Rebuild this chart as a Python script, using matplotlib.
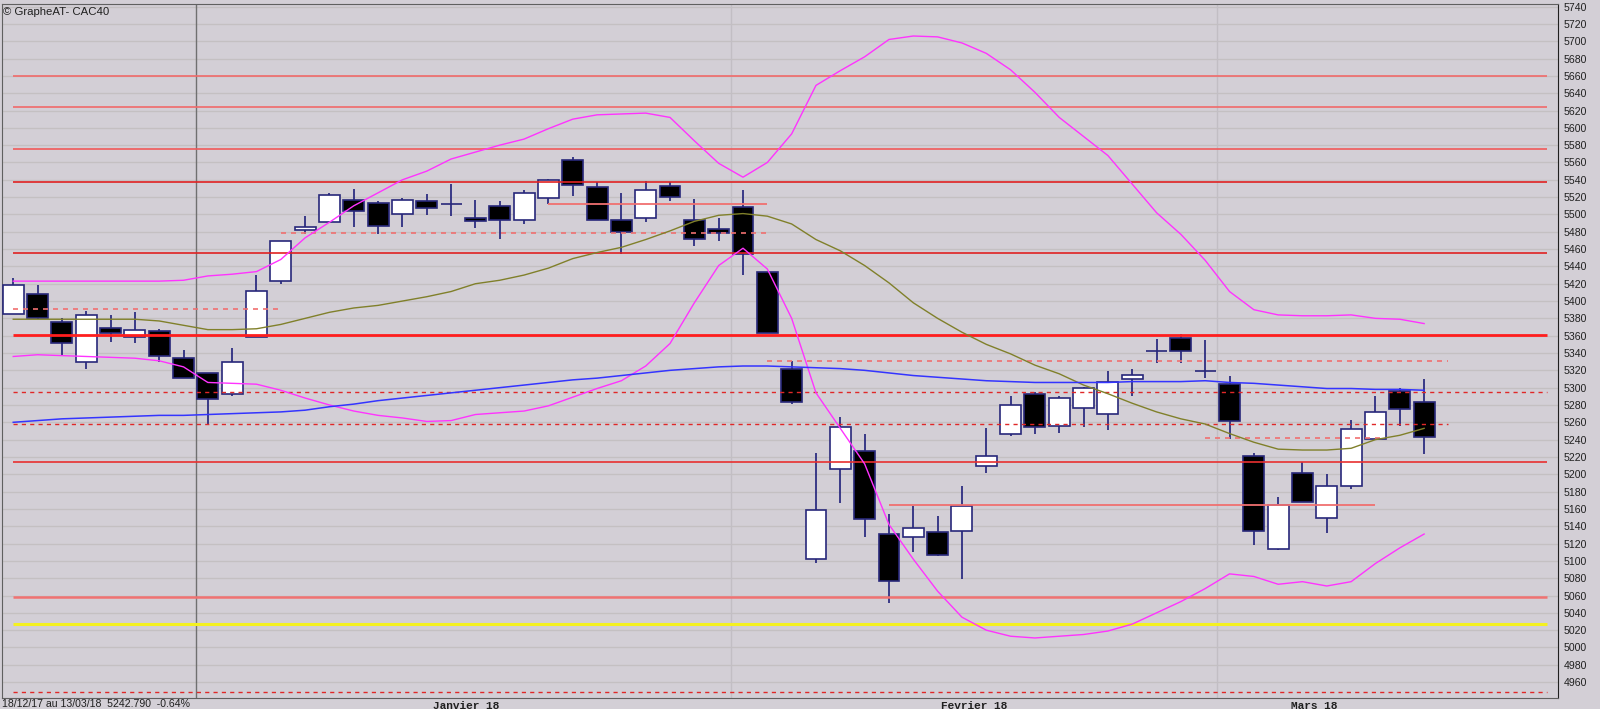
import matplotlib
matplotlib.use("Agg")
import matplotlib.pyplot as plt
import numpy as np

# daily CAC40 candles, 18/12/17 -> 13/03/18
opens = [5385, 5408, 5376, 5330, 5369, 5358, 5365, 5334, 5317, 5293,
         5359, 5423, 5482, 5491, 5517, 5513, 5501, 5515, 5512, 5496,
         5510, 5493, 5519, 5563, 5532, 5493, 5496, 5533, 5493, 5483,
         5509, 5433, 5321, 5102, 5206, 5227, 5131, 5127, 5133, 5135,
         5209, 5246, 5293, 5256, 5276, 5270, 5310, 5342, 5357, 5319,
         5304, 5221, 5114, 5201, 5149, 5187, 5241, 5296, 5283]
closes = [5419, 5380, 5351, 5384, 5363, 5367, 5337, 5311, 5287, 5330,
          5412, 5469, 5486, 5523, 5504, 5487, 5517, 5508, 5512, 5492,
          5493, 5525, 5540, 5534, 5493, 5480, 5528, 5520, 5472, 5479,
          5454, 5363, 5284, 5159, 5254, 5148, 5077, 5138, 5107, 5163,
          5221, 5280, 5254, 5288, 5300, 5307, 5315, 5342, 5342, 5319,
          5261, 5134, 5164, 5168, 5186, 5252, 5272, 5275, 5242.79]
highs = [5427, 5419, 5381, 5388, 5384, 5387, 5368, 5343, 5317, 5346,
         5430, 5469, 5498, 5525, 5529, 5516, 5519, 5524, 5535, 5517,
         5515, 5528, 5541, 5566, 5537, 5525, 5539, 5537, 5518, 5496,
         5528, 5433, 5331, 5224, 5266, 5246, 5154, 5163, 5152, 5186,
         5253, 5290, 5295, 5290, 5301, 5319, 5321, 5356, 5362, 5355,
         5314, 5224, 5174, 5214, 5200, 5263, 5290, 5300, 5310]
lows = [5385, 5379, 5336, 5322, 5353, 5351, 5330, 5311, 5257, 5290,
        5359, 5420, 5477, 5491, 5486, 5477, 5485, 5499, 5498, 5484,
        5472, 5489, 5512, 5521, 5493, 5454, 5491, 5516, 5463, 5469,
        5430, 5363, 5281, 5097, 5167, 5127, 5051, 5110, 5106, 5079,
        5202, 5244, 5247, 5248, 5254, 5251, 5290, 5328, 5328, 5311,
        5241, 5118, 5113, 5168, 5132, 5183, 5241, 5256, 5223]

bb_upper = [5423, 5423, 5423, 5423, 5423, 5423, 5423, 5424, 5429, 5431,
            5434, 5448, 5473, 5491, 5510, 5525, 5540, 5550, 5564, 5572,
            5580, 5587, 5599, 5610, 5615, 5616, 5617, 5612, 5585, 5559,
            5543, 5560, 5593, 5649, 5666, 5682, 5702, 5706, 5705, 5698,
            5686, 5667, 5641, 5612, 5590, 5568, 5535, 5502, 5477, 5447,
            5411, 5390, 5384, 5383, 5383, 5384, 5380, 5379, 5374]
bb_lower = [5336, 5338, 5337, 5336, 5335, 5334, 5331, 5324, 5306, 5305,
            5304, 5297, 5288, 5280, 5273, 5268, 5265, 5261, 5262, 5269,
            5271, 5273, 5279, 5289, 5299, 5308, 5325, 5351, 5398, 5441,
            5461, 5437, 5380, 5294, 5253, 5212, 5142, 5102, 5065, 5035,
            5020, 5013, 5011, 5013, 5015, 5019, 5027, 5040, 5053, 5068,
            5085, 5082, 5073, 5076, 5071, 5076, 5097, 5115, 5131]
ma20 = [5379, 5379, 5379, 5379, 5379, 5379, 5377, 5372, 5367, 5367,
        5368, 5373, 5380, 5387, 5392, 5395, 5400, 5405, 5411, 5420,
        5424, 5430, 5438, 5449, 5456, 5462, 5471, 5481, 5492, 5499,
        5501, 5498, 5489, 5471, 5458, 5441, 5421, 5398, 5380, 5364,
        5350, 5339, 5326, 5316, 5303, 5293, 5282, 5272, 5264, 5258,
        5247, 5237, 5229, 5228, 5228, 5230, 5240, 5245, 5253]
ma_long = [5260, 5262, 5264, 5265, 5266, 5267, 5268, 5268, 5269, 5270,
           5271, 5272, 5274, 5278, 5281, 5285, 5288, 5291, 5294, 5297,
           5300, 5303, 5306, 5309, 5311, 5314, 5317, 5320, 5322, 5324,
           5325, 5325, 5324, 5323, 5322, 5320, 5317, 5314, 5312, 5310,
           5308, 5307, 5306, 5306, 5306, 5306, 5307, 5307, 5307, 5308,
           5306, 5305, 5303, 5301, 5299, 5299, 5298, 5298, 5297]

# support / resistance levels
solid_levels = [5660, 5624, 5576, 5538, 5455, 5214]
solid_colors = ['#f06a6a', '#f06a6a', '#f05a5a', '#e02222', '#e02222', '#e83030']
dashed_levels = [5295, 5258.6, 4948.5]
dashed_ends = [63.05, 59.0, 63.05]
short_dashed = [(5391, 0, 11.0), (5478, 11.0, 31.0), (5331, 31.0, 59.0), (5242, 49.0, 56.4)]
short_solid = [(5512, 22.0, 31.0), (5165, 36.0, 56.0)]
month_breaks = [7.5, 29.5, 49.5]
month_labels = ["Janvier 18", "Fevrier 18", "Mars 18"]
month_pos = [18.6, 39.5, 53.5]

bg = '#d3cfd6'
x = np.arange(len(opens))

fig = plt.figure(figsize=(16, 7.09), dpi=100, facecolor=bg)
ax = fig.add_axes([0.0014, 0.0159, 0.9723, 0.9785])
ax.set_facecolor(bg)
ax.set_xlim(-0.452, 63.5)
ax.set_ylim(4942, 5743)

for v in range(4960, 5741, 20):
    ax.axhline(v, color='#c4c0c2', lw=1, zorder=0)

ax.axvline(month_breaks[0], color='#707070', lw=1, zorder=1)
for mb in month_breaks[1:]:
    ax.axvline(mb, color='#c2bec4', lw=1, zorder=1)

# candles
o = np.array(opens); c = np.array(closes)
up = c >= o
ax.vlines(x, lows, highs, color='#20207a', lw=1.2, zorder=2)
ax.bar(x[up], (c - o)[up], bottom=o[up], width=0.86, color='white',
       edgecolor='#28287a', lw=1.2, zorder=3)
ax.bar(x[~up], (c - o)[~up], bottom=o[~up], width=0.86, color='black',
       edgecolor='#28287a', lw=1.2, zorder=3)

# indicators
ax.plot(x, bb_upper, color='#ff33ff', lw=1, zorder=5)
ax.plot(x, bb_lower, color='#ff33ff', lw=1, zorder=5)
ax.plot(x, ma20, color='#80802a', lw=1, zorder=5)
ax.plot(x, ma_long, color='#3434ff', lw=1.1, zorder=5)

# levels
for lv, col in zip(solid_levels, solid_colors):
    ax.hlines(lv, 0, 63.05, color=col, lw=1.2, zorder=4)
ax.hlines(5361, 0, 63.05, color='#ff1e1e', lw=2, zorder=4)
ax.hlines(5058, 0, 63.05, color='#f07272', lw=1.8, zorder=4)
ax.hlines(5027.5, 0, 63.05, color='#f4f020', lw=2.2, zorder=4)
for lv, xe in zip(dashed_levels, dashed_ends):
    ax.hlines(lv, 0, xe, color='#e02828', lw=1, linestyles=(0, (3, 3)), zorder=4)
for lv, xs, xe in short_dashed:
    ax.hlines(lv, xs, xe, color='#f07070', lw=1.2, linestyles=(0, (3, 3)), zorder=4)
for lv, xs, xe in short_solid:
    ax.hlines(lv, xs, xe, color='#f07070', lw=1.3, zorder=4)

# axes styling
for s in ['left', 'top', 'bottom']:
    ax.spines[s].set_color('#606060')
ax.spines['right'].set_color('#202020')
ax.yaxis.tick_right()
ax.set_yticks(range(4960, 5741, 20))
ax.tick_params(axis='y', length=0, pad=4, labelsize=7.6, labelcolor='#202020')
for lab in ax.get_yticklabels():
    lab.set_family('Liberation Sans')
ax.set_xticks([])

fig.text(0.002, 0.983, "\u00a9 GrapheAT- CAC40", fontsize=8.2,
         family='Liberation Sans', color='#202020', va='center')
fig.text(0.001, 0.0075, "18/12/17 au 13/03/18  5242.790  -0.64%", fontsize=7.6,
         family='Liberation Sans', color='#202020', va='center')
for lab, p in zip(month_labels, month_pos):
    ax.text(p, -0.0125, lab, transform=ax.get_xaxis_transform(), ha='center',
            va='center', fontsize=8, family='Liberation Mono', weight='bold',
            color='#202020')

fig.savefig("out.png", dpi=100, facecolor=bg)
